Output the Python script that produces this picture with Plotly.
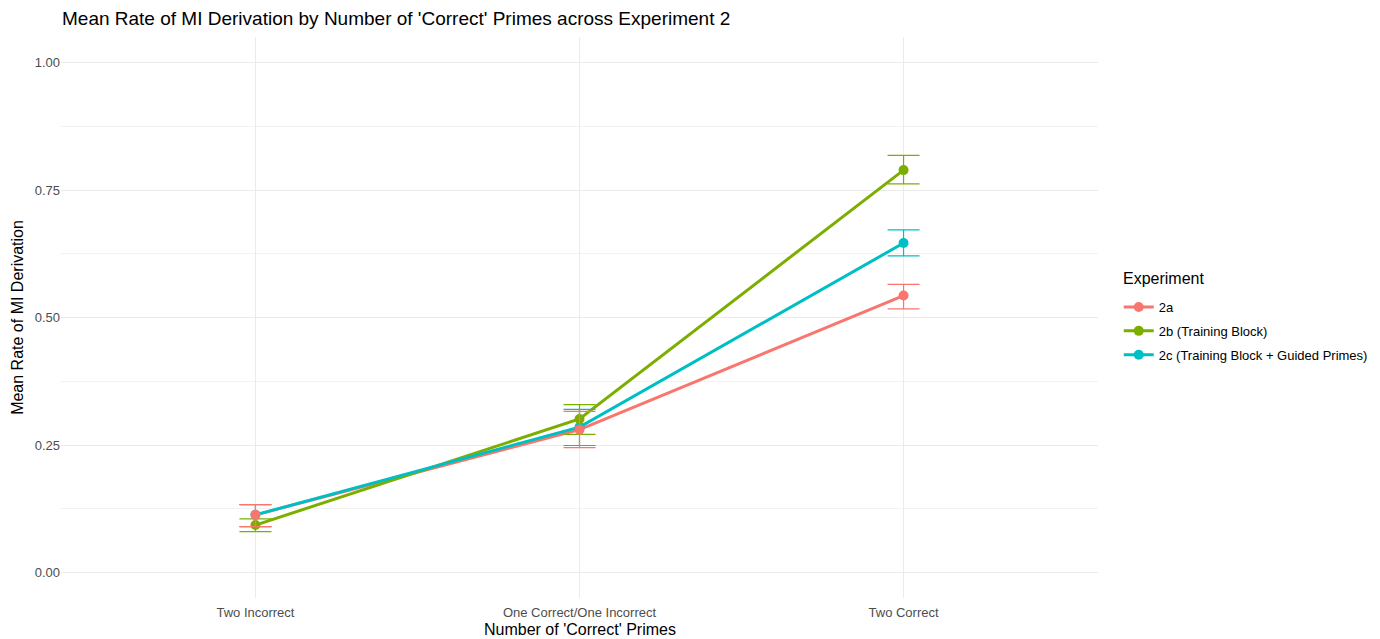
import plotly.graph_objects as go

categories = ["Two Incorrect", "One Correct/One Incorrect", "Two Correct"]
series_names = ["2a", "2b (Training Block)", "2c (Training Block + Guided Primes)"]
means_2a = [0.113, 0.280, 0.543]
upper_2a = [0.133, 0.316, 0.565]
lower_2a = [0.090, 0.245, 0.517]
means_2b = [0.093, 0.301, 0.789]
upper_2b = [0.105, 0.329, 0.818]
lower_2b = [0.080, 0.271, 0.762]
means_2c = [0.113, 0.285, 0.646]
upper_2c = [0.133, 0.320, 0.672]
lower_2c = [0.090, 0.249, 0.621]
colors = ["#F8766D", "#7CAE00", "#00BFC4"]

series = list(zip(series_names,
                  [means_2a, means_2b, means_2c],
                  [upper_2a, upper_2b, upper_2c],
                  [lower_2a, lower_2b, lower_2c],
                  colors))

fig = go.Figure()
# line layer: 2a, 2b, 2c (2c on top)
for name, m, up, lo, col in series:
    fig.add_trace(go.Scatter(
        x=categories, y=m, mode="lines", showlegend=False, hoverinfo="skip",
        line=dict(color=col, width=3),
    ))
# point + error bar layer: 2c, 2b, 2a (2a on top)
for name, m, up, lo, col in reversed(series):
    fig.add_trace(go.Scatter(
        x=categories, y=m, name=name, mode="markers", showlegend=False,
        marker=dict(color=col, size=10),
        error_y=dict(type="data", symmetric=False,
                     array=[u - v for u, v in zip(up, m)],
                     arrayminus=[v - l for v, l in zip(m, lo)],
                     color=col, thickness=1.2, width=16),
    ))
# legend entries
for name, m, up, lo, col in series:
    fig.add_trace(go.Scatter(
        x=[None], y=[None], name=name, mode="lines+markers", legendgroup=name,
        line=dict(color=col, width=3), marker=dict(color=col, size=10),
    ))

# body margin removed by post_script, so the figure fills the window exactly
W, H = 1380, 639
L, R, T, B = 61, 282, 37, 41
PW, PH = W - L - R, H - T - B

def px_to_paper_y(ywin):
    return (H - B - ywin) / PH

def px_to_paper_x(xwin):
    return (xwin - L) / PW

fig.update_layout(
    width=W, height=H,
    paper_bgcolor="white", plot_bgcolor="white",
    margin=dict(l=L, r=R, t=T, b=B, autoexpand=False),
    font=dict(family="Liberation Sans, Arial, sans-serif", color="#000000"),
    title=dict(text="Mean Rate of MI Derivation by Number of 'Correct' Primes across Experiment 2",
               x=62/W, xanchor="left", xref="container",
               y=1-18/H, yanchor="middle", yref="container",
               font=dict(size=19, color="#000000")),
    xaxis=dict(range=[-0.6, 2.6], showgrid=True, gridcolor="#EBEBEB", gridwidth=1.2,
               zeroline=False, showline=False, ticks="", automargin=False,
               ticklabelstandoff=5,
               tickfont=dict(size=13, color="#4D4D4D")),
    yaxis=dict(title=dict(text="Mean Rate of MI Derivation", font=dict(size=16), standoff=7),
               range=[-0.05, 1.05], tickvals=[0, 0.25, 0.5, 0.75, 1.0],
               tickformat=".2f", showgrid=True, gridcolor="#EBEBEB", gridwidth=1.2,
               minor=dict(tickvals=[0.125, 0.375, 0.625, 0.875], showgrid=True,
                          gridcolor="#F2F2F2", gridwidth=0.6),
               zeroline=False, showline=False, ticks="", automargin=False,
               tickfont=dict(size=13, color="#4D4D4D")),
    legend=dict(x=1.02, xanchor="left", y=px_to_paper_y(292), yanchor="top",
                font=dict(size=13), tracegroupgap=4,
                bgcolor="rgba(0,0,0,0)"),
    showlegend=True,
    annotations=[
        dict(text="Number of 'Correct' Primes", xref="paper", yref="paper",
             x=0.5, xanchor="center", y=px_to_paper_y(629), yanchor="middle",
             showarrow=False, font=dict(size=16, color="#000000")),
        dict(text="Experiment", xref="paper", yref="paper",
             x=px_to_paper_x(1121), xanchor="left", y=px_to_paper_y(278), yanchor="middle",
             showarrow=False, font=dict(size=16, color="#000000")),
    ],
)

fig.write_html("out.html",
               config={"displayModeBar": False},
               post_script="document.documentElement.style.margin='0';"
                           "document.body.style.margin='0';"
                           "document.body.style.overflow='hidden';")
